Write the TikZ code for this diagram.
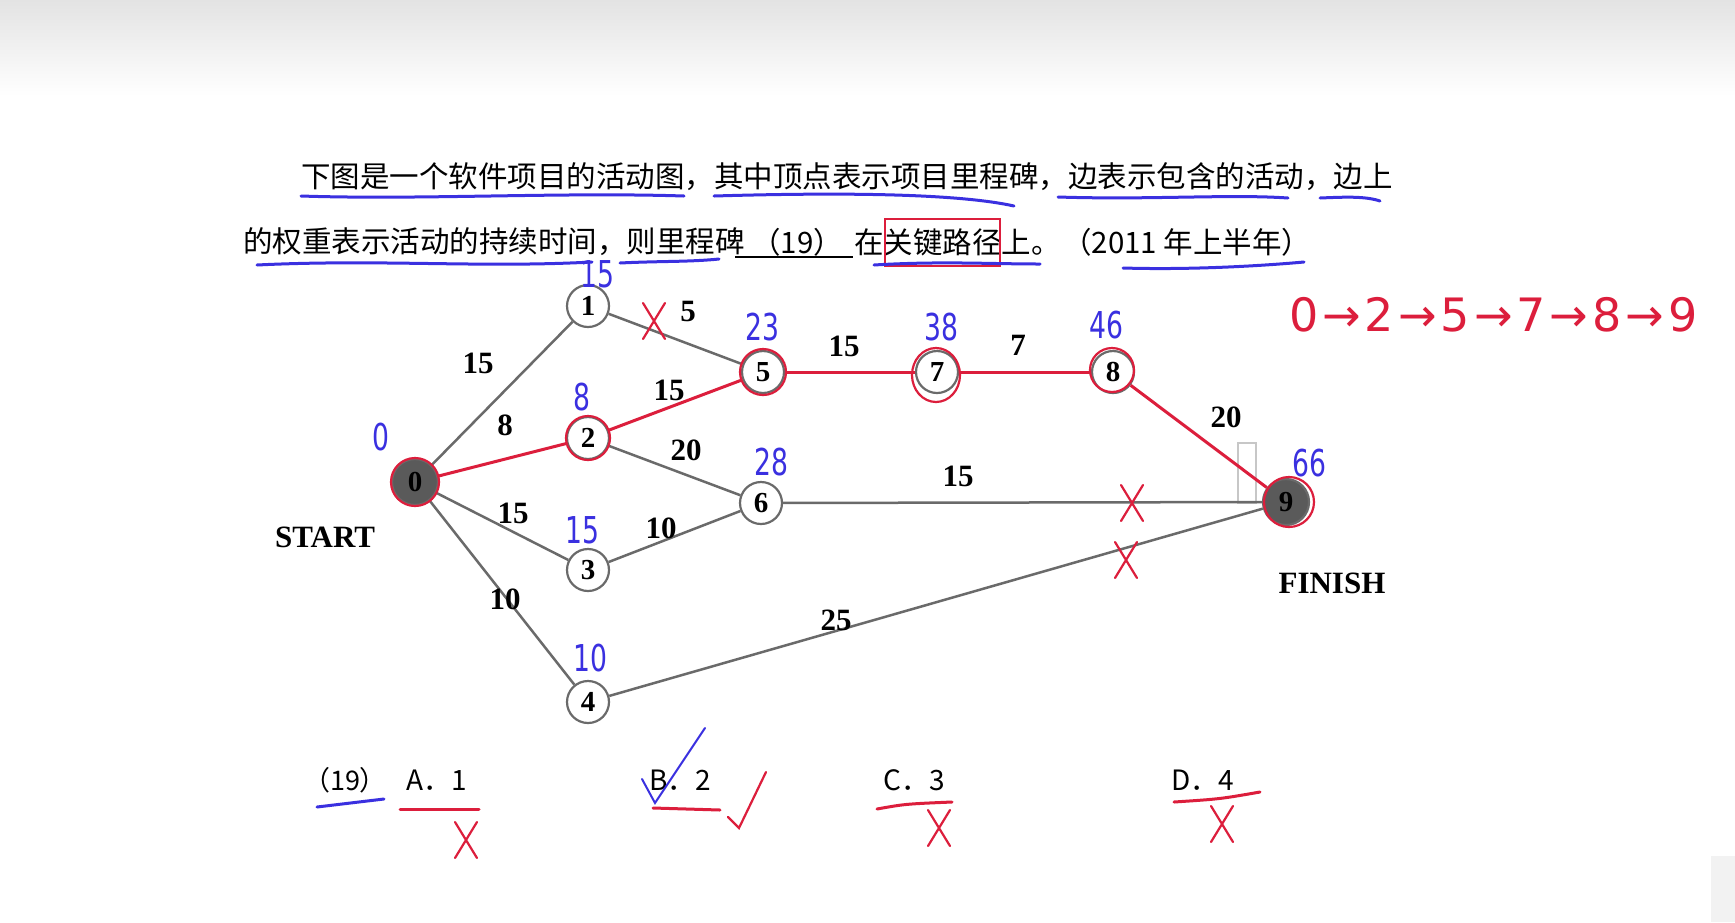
\documentclass[tikz,border=0pt]{standalone}
\usepackage{fontspec}
\setmainfont{Liberation Serif}
\newfontfamily\cjk{Noto Sans CJK SC}
\newfontfamily\hand{DejaVu Sans}
\definecolor{edgegray}{HTML}{6A6A6A}
\definecolor{darkfill}{HTML}{5A5A5A}
\definecolor{penred}{HTML}{DC1E3C}
\definecolor{penblue}{HTML}{3A30E0}

\begin{document}
\begin{tikzpicture}[x=1pt, y=-1pt,
  every node/.style={inner sep=0pt},
  vertex/.style={circle, draw=edgegray, line width=2.2pt, fill=white, minimum size=42pt, font=\fontsize{29}{29}\selectfont\bfseries},
  endvertex/.style={vertex, fill=darkfill, minimum size=46pt},
  link/.style={draw=edgegray, line width=2.5pt},
  crit/.style={draw=penred, line width=3pt},
  wlabel/.style={font=\fontsize{31}{31}\selectfont\bfseries},
  handnum/.style={text=penblue, font=\hand\fontsize{37}{37}\selectfont, xscale=0.72},
  redpen/.style={draw=penred, line width=2.2pt, line cap=round},
  bluepen/.style={draw=penblue, line width=3pt, line cap=round},
  question/.style={font=\cjk\fontsize{29.5}{29.5}\selectfont, anchor=west},
  choice/.style={font=\cjk\fontsize{28}{28}\selectfont}]

  \useasboundingbox (0,0) rectangle (1735,922);
  \fill[white] (0,0) rectangle (1735,922);
  \shade[top color=black!11, bottom color=white] (0,0) rectangle (1735,96);
  \fill[black!5] (1711,856) rectangle (1735,922);

  % question
  \node[question] (q1) at (301,177) {下图是一个软件项目的活动图，其中顶点表示项目里程碑，边表示包含的活动，边上};
  \node[question] (q2) at (243,242) {的权重表示活动的持续时间，则里程碑};
  \node[question, anchor=center] (blank) at (797,242) {（19）};
  \node[question] (q3) at (854,242) {在关键路径上。};
  \node[question] (q4) at (1062,242) {（2011 年上半年）};
  \draw[line width=2.5pt] (735,257) -- (853,257);
  \draw[draw=penred, line width=1.5pt] (885,219) rectangle (1000,266);

  % underlines
  \draw[bluepen] (301,196) .. controls (420,200) and (560,192) .. (684,196);
  \draw[bluepen] (714,196) .. controls (850,192) and (960,194) .. (1014,206);
  \draw[bluepen] (1058,197) .. controls (1150,200) and (1230,194) .. (1288,198);
  \draw[bluepen] (1320,198) .. controls (1345,197) and (1365,196) .. (1380,201);
  \draw[bluepen] (257,265) .. controls (380,259) and (480,268) .. (592,262);
  \draw[bluepen] (620,263) .. controls (660,261) and (690,262) .. (719,259);
  \draw[bluepen] (874,265) .. controls (940,261) and (990,264) .. (1040,264);
  \draw[bluepen] (1123,268) .. controls (1190,270) and (1260,266) .. (1304,262);

  % milestones
  \node[endvertex] (n0) at (415,482) {0};
  \node[vertex] (n1) at (588,306) {1};
  \node[vertex] (n2) at (588,438) {2};
  \node[vertex] (n3) at (588,570) {3};
  \node[vertex] (n4) at (588,702) {4};
  \node[vertex] (n5) at (763,372) {5};
  \node[vertex] (n6) at (761,503) {6};
  \node[vertex] (n7) at (937,372) {7};
  \node[vertex] (n8) at (1113,372) {8};
  \node[endvertex] (n9) at (1286,502) {9};

  \draw[black!22, line width=1.2pt] (1238,443) rectangle (1256,503);

  \draw[link] (n0) -- (n1);
  \draw[link] (n0) -- (n3);
  \draw[link] (n0) -- (n4);
  \draw[link] (n1) -- (n5);
  \draw[link] (n2) -- (n6);
  \draw[link] (n3) -- (n6);
  \draw[link] (n6) -- (n9);
  \draw[link] (n4) -- (n9);
  \draw[crit] (n0) -- (n2);
  \draw[crit] (n2) -- (n5);
  \draw[crit] (n5) -- (n7);
  \draw[crit] (n7) -- (n8);
  \draw[crit] (n8) -- (n9);

  % durations
  \node[wlabel] (w01) at (478,363) {15};
  \node[wlabel] (w02) at (505,425) {8};
  \node[wlabel] (w03) at (513,513) {15};
  \node[wlabel] (w04) at (505,599) {10};
  \node[wlabel] (w15) at (688,311) {5};
  \node[wlabel] (w25) at (669,390) {15};
  \node[wlabel] (w26) at (686,450) {20};
  \node[wlabel] (w36) at (661,528) {10};
  \node[wlabel] (w57) at (844,346) {15};
  \node[wlabel] (w78) at (1018,345) {7};
  \node[wlabel] (w89) at (1226,417) {20};
  \node[wlabel] (w69) at (958,476) {15};
  \node[wlabel] (w49) at (836,620) {25};
  \node[wlabel] (start) at (325,537) {START};
  \node[wlabel] (finish) at (1332,583) {FINISH};

  % red circles on the critical path
  \draw[redpen] (n0) circle (24);
  \draw[redpen] (n2) circle (22);
  \draw[redpen] (n5) circle (23);
  \draw[redpen] (n7.center) ++(-1,3) ellipse (24 and 27);
  \draw[redpen] (n8.center) ++(-1,-2) circle (22);
  \draw[redpen] (n9.center) ++(3,0) circle (25);

  % earliest times
  \node[handnum] (t0) at (381,437) {0};
  \node[handnum] (t1) at (597,274) {15};
  \node[handnum] (t2) at (582,397) {8};
  \node[handnum] (t3) at (582,530) {15};
  \node[handnum] (t4) at (590,658) {10};
  \node[handnum] (t5) at (762,327) {23};
  \node[handnum] (t6) at (771,462) {28};
  \node[handnum] (t7) at (941,327) {38};
  \node[handnum] (t8) at (1106,325) {46};
  \node[handnum] (t9) at (1309,463) {66};

  \node[text=penred, font=\hand\fontsize{46}{46}\selectfont, anchor=west] (route) at (1289,315)
    {0\hspace{4pt}→\hspace{4pt}2\hspace{4pt}→\hspace{4pt}5\hspace{4pt}→\hspace{4pt}7\hspace{4pt}→\hspace{4pt}8\hspace{4pt}→\hspace{4pt}9};

  % choices
  \node[choice, font=\cjk\fontsize{27}{27}\selectfont] (c0) at (345,780) {（19）};
  \node[choice] (ca) at (437,780) {A．1};
  \node[choice] (cb) at (680,780) {B．2};
  \node[choice] (cc) at (914,780) {C．3};
  \node[choice] (cd) at (1203,780) {D．4};
  \draw[bluepen] (317,807) -- (384,799);
  \draw[redpen, line width=3pt] (400,809) -- (479,809);
  \draw[redpen, line width=3pt] (653,808) -- (720,810);
  \draw[redpen, line width=3pt] (877,809) .. controls (905,804) .. (952,802);
  \draw[redpen, line width=3pt] (1174,802) .. controls (1220,799) .. (1260,792);
  \draw[bluepen, line width=2pt] (642,779) -- (655,803) -- (705,728);
  \draw[redpen] (728,817) -- (739,828) -- (766,772);

  \foreach \x/\y in {654/321, 1132/503, 1126/560, 466/840, 939/828, 1222/824}
    \draw[redpen] (\x-11,\y-18) -- (\x+11,\y+18) (\x+11,\y-18) -- (\x-11,\y+18);
\end{tikzpicture}
\end{document}
